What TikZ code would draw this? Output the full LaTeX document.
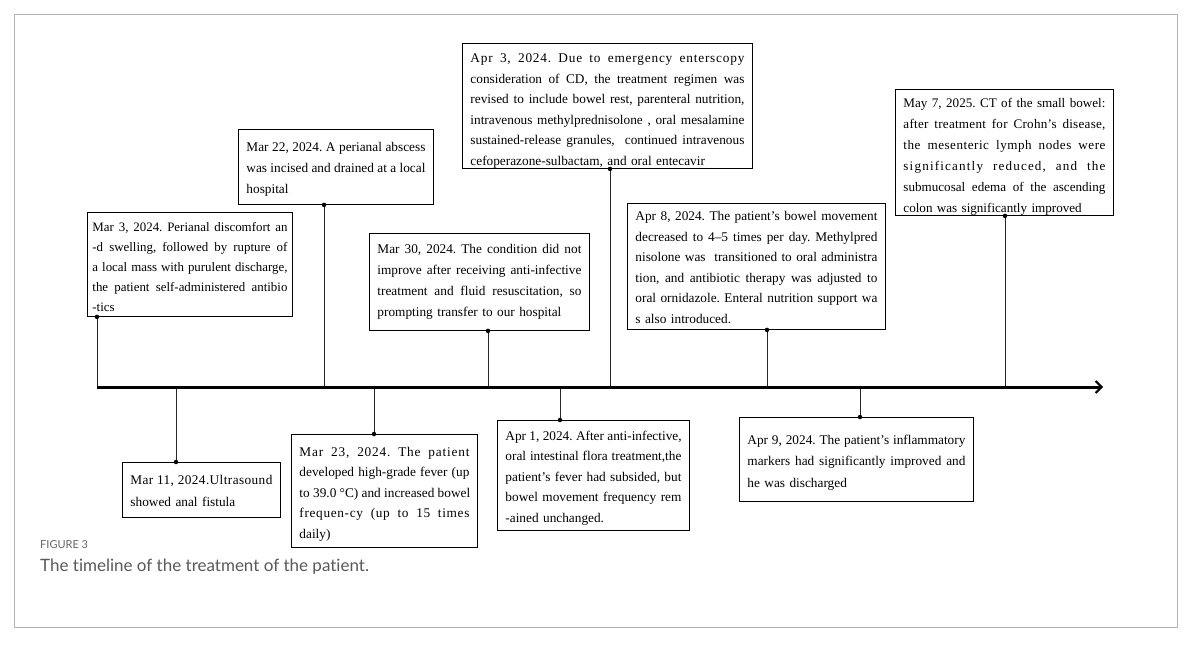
\documentclass[tikz,border=0pt]{standalone}
\usepackage{fontspec}
\setmainfont{Liberation Serif}
\newfontfamily\capfont[Ligatures=NoCommon]{Lato}
\usetikzlibrary{arrows.meta}
% justified line (word spacing only)
\newcommand{\jl}[1]{\makebox[\hsize][s]{\spaceskip=0.25em plus 1fil\relax #1}\\}
% justified line with some letter spacing first
\newcommand{\jls}[2]{\makebox[\hsize][s]{\addfontfeature{LetterSpace=#1}\spaceskip=0.25em plus 1fil\relax #2}\\}
\frenchspacing
\begin{document}
\begin{tikzpicture}[x=1pt,y=-1pt,
  ev/.style n args={4}{draw=black, line width=0.9pt, fill=white, inner xsep=8pt, inner ysep=0pt,
    align=left, text height=#1, text depth=#2,
    font=\fontsize{#4}{#3}\selectfont\frenchspacing, anchor=north west},
  conn/.style={draw=black!85, line width=0.8pt},
  dotm/.style={circle, fill=black, inner sep=0pt, minimum size=4.5pt},
  capsmall/.style={anchor=base west, inner sep=0pt, text=black!60, font=\capfont\fontsize{11}{12}\selectfont},
  caplarge/.style={anchor=base west, inner sep=0pt, text=black!65, font=\capfont\fontsize{17}{19}\selectfont}]
\fill[white] (0,0) rectangle (1200,649);
\useasboundingbox (0,0) rectangle (1200,649);
\draw[black!30, line width=0.8pt] (14,14) rectangle (1177,627);

% events above the axis
\node[ev={19pt}{85pt}{20pt}{12.9}, text width=195pt, inner xsep=5pt] (b1) at (87,212)
 {\jl{Mar 3, 2024. Perianal discomfort an}\jl{-d swelling, followed by rupture of}\jl{a local mass with purulent discharge,}\jl{the patient self-administered antibio}-tics};
\node[ev={22pt}{53pt}{21pt}{13.3}, text width=179pt] (b2) at (238,129)
 {\jl{Mar 22, 2024. A perianal abscess}\jl{was incised and drained at a local}hospital};
\node[ev={19pt}{106pt}{20.6pt}{13.3}, text width=274pt] (b3) at (462,43)
 {\jls{6}{Apr 3, 2024. Due to emergency enterscopy}\jl{consideration of CD, the treatment regimen was}\jl{revised to include bowel rest, parenteral nutrition,}\jl{intravenous methylprednisolone , oral mesalamine}\jl{sustained-release granules,\ \ continued intravenous}cefoperazone-sulbactam, and oral entecavir};
\node[ev={20pt}{77pt}{21pt}{13.3}, text width=204pt] (b4) at (369,233)
 {\jl{Mar 30, 2024. The condition did not}\jl{improve after receiving anti-infective}\jl{treatment and fluid resuscitation, so}prompting transfer to our hospital};
\node[ev={17pt}{109pt}{20.6pt}{13.3}, text width=242pt] (b5) at (627,203)
 {\jl{Apr 8, 2024. The patient’s bowel movement}\jl{decreased to 4–5 times per day. Methylpred}\jl{nisolone was\ \ transitioned to oral administra}\jl{tion, and antibiotic therapy was adjusted to}\jl{oral ornidazole. Enteral nutrition support wa}s also introduced.};
\node[ev={18pt}{108pt}{21pt}{13.1}, text width=202pt] (b6) at (895,89)
 {\jl{May 7, 2025. CT of the small bowel:}\jls{2}{after treatment for Crohn's disease,}\jls{4}{the mesenteric lymph nodes were}\jls{9}{significantly reduced, and the}\jl{submucosal edema of the ascending}colon was significantly improved};

% events below the axis
\node[ev={22pt}{33pt}{22pt}{13.3}, text width=142pt] (b7) at (122,462)
 {\jls{3}{Mar 11, 2024.Ultrasound}showed anal fistula};
\node[ev={22pt}{91pt}{20.5pt}{13.3}, text width=170pt] (b8) at (291,434)
 {\jls{6}{Mar 23, 2024. The patient}\jl{developed high-grade fever (up}\jl{to 39.0 °C) and increased bowel}\jls{5}{frequen-cy (up to 15 times}daily)};
\node[ev={20pt}{90pt}{20.5pt}{13.3}, text width=176pt] (b9) at (497,420)
 {\jl{Apr 1, 2024. After anti-infective,}\jl{oral intestinal flora treatment,the}\jl{patient’s fever had subsided, but}\jl{bowel movement frequency rem}-ained unchanged.};
\node[ev={27pt}{57pt}{21.5pt}{13.3}, text width=218pt] (b10) at (739,417)
 {\jl{Apr 9, 2024. The patient's inflammatory}\jl{markers had significantly improved and}he was discharged};

% axis
\coordinate (a0) at (97,387);
\coordinate (a1) at (1103,387);
\coordinate (t1) at (97,387);
\coordinate (t2) at (324,387);
\coordinate (t3) at (610,387);
\coordinate (t4) at (488,387);
\coordinate (t5) at (767,387);
\coordinate (t6) at (1005,387);
\coordinate (t7) at (176,387);
\coordinate (t8) at (374,387);
\coordinate (t9) at (560,387);
\coordinate (t10) at (860,387);

\foreach \i in {1,...,6} {
  \draw[conn] (t\i |- b\i.south) -- (t\i);
  \node[dotm] at (t\i |- b\i.south) {};
}
\foreach \i in {7,...,10} {
  \draw[conn] (t\i) -- (t\i |- b\i.north);
  \node[dotm] at (t\i |- b\i.north) {};
}
\draw[line width=3pt, -{Straight Barb[length=6pt,width=12pt,line width=2pt]}] (a0) -- (a1);

% caption
\node[capsmall] (fig) at (40,548) {FIGURE 3};
\node[caplarge] (cap) at (40,571) {The timeline of the treatment of the patient.};
\end{tikzpicture}
\end{document}
